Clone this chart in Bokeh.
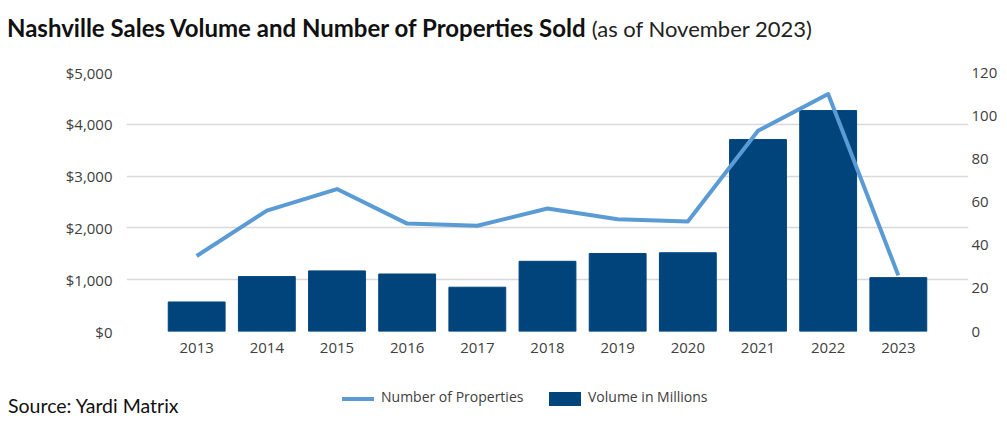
from bokeh.plotting import figure
from bokeh.layouts import column
from bokeh.models import (Range1d, LinearAxis, FixedTicker, NumeralTickFormatter, Div)
from bokeh.embed import file_html
from bokeh.resources import INLINE

# Nashville sales data
years = [2013, 2014, 2015, 2016, 2017, 2018, 2019, 2020, 2021, 2022, 2023]
volume_millions = [570, 1060, 1170, 1110, 855, 1355, 1505, 1520, 3705, 4265, 1040]
num_properties = [35, 56, 66, 50, 49, 57, 52, 51, 93, 110, 26]
volume_ticks = [0, 1000, 2000, 3000, 4000, 5000]
count_ticks = [0, 20, 40, 60, 80, 100, 120]

BAR_COLOR = "#00447C"
LINE_COLOR = "#5B9BD5"
TEXT_COLOR = "#404040"
FONT = "Open Sans"
HEAD_FONT = "Lato"

# Heading with a bold title and a lighter date note
header = Div(
    text=(f'<div style="font-family:{HEAD_FONT};font-size:24px;color:#111111;'
          'padding:14px 0 0 7px;white-space:nowrap;line-height:28px">'
          '<b>Nashville Sales Volume and Number of Properties Sold</b> '
          '<span style="font-size:22px;color:#222222">(as of November 2023)</span></div>'),
    width=1007, height=50, margin=0)

# Main chart: bars on the left axis, line on the right axis
p = figure(width=1007, height=321, output_backend="svg", toolbar_location=None,
           x_range=Range1d(2012, 2024), y_range=Range1d(0, 5000),
           min_border_left=126, min_border_right=39,
           min_border_top=22, min_border_bottom=40)
p.outline_line_color = None
p.border_fill_color = "white"

p.extra_y_ranges = {"count": Range1d(0, 120)}

bars = p.vbar(x=years, top=volume_millions, width=0.81, color=BAR_COLOR)
line = p.line(x=years, y=num_properties, y_range_name="count",
              line_color=LINE_COLOR, line_width=4, line_join="round")

p.xaxis.ticker = FixedTicker(ticks=years)
p.yaxis.ticker = FixedTicker(ticks=volume_ticks)
p.yaxis.formatter = NumeralTickFormatter(format="$0,0")

right = LinearAxis(y_range_name="count", ticker=FixedTicker(ticks=count_ticks))
p.add_layout(right, "right")

for ax in [p.xaxis[0], p.yaxis[0], right]:
    ax.axis_line_color = None
    ax.major_tick_line_color = None
    ax.minor_tick_line_color = None
    ax.major_tick_out = 0
    ax.major_tick_in = 0
    ax.minor_tick_out = 0
    ax.major_label_text_font = FONT
    ax.major_label_text_font_size = "15px"
    ax.major_label_text_color = TEXT_COLOR

p.yaxis[0].major_label_standoff = 14
right.major_label_standoff = 3
p.xaxis[0].major_label_standoff = 11

p.xgrid.grid_line_color = None
p.ygrid.grid_line_color = "#d9d9d9"
p.ygrid.grid_line_width = 1.5
p.ygrid.ticker = FixedTicker(ticks=volume_ticks)

# Footer: source note on the left, series key in the middle
key_text = (f'position:absolute;top:18px;font-family:{FONT};font-size:14px;'
            f'line-height:16px;color:{TEXT_COLOR};white-space:nowrap')
footer = Div(
    text=(
        '<div style="position:relative;width:1007px;height:62px">'
        f'<div style="position:absolute;left:8px;top:24px;font-family:{HEAD_FONT};'
        'font-size:19.5px;line-height:22px;color:#111111;white-space:nowrap">'
        'Source: Yardi Matrix</div>'
        f'<div style="position:absolute;left:342px;top:26px;width:32px;height:4px;'
        f'background:{LINE_COLOR}"></div>'
        f'<div style="{key_text};left:381px">Number of Properties</div>'
        f'<div style="position:absolute;left:549px;top:21px;width:32px;height:14px;'
        f'background:{BAR_COLOR}"></div>'
        f'<div style="{key_text};left:588px">Volume in Millions</div>'
        '</div>'),
    width=1007, height=62, margin=0)

layout = column(header, p, footer, spacing=0)
open("out.html", "w").write(file_html(layout, INLINE))
